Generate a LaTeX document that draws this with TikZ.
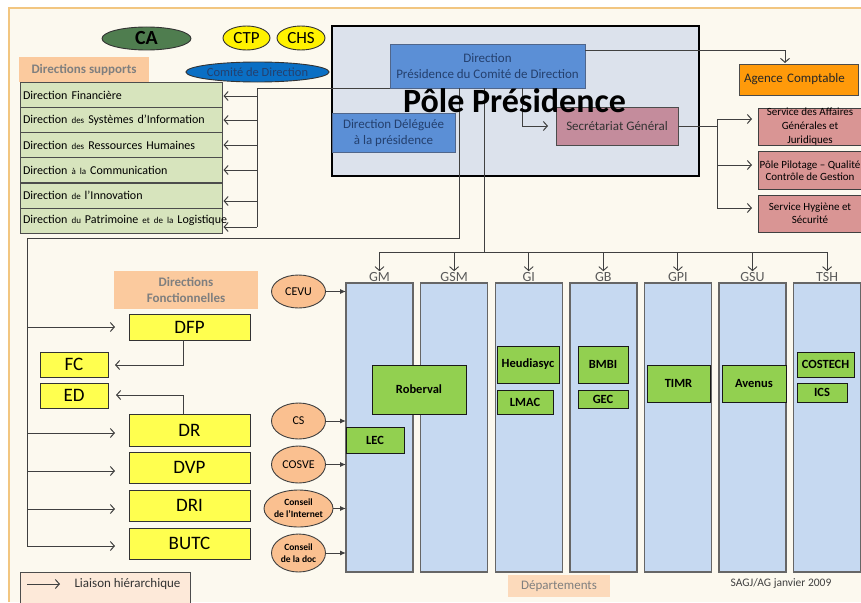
\documentclass[tikz,border=0pt]{standalone}
\usepackage{fontspec}
\setmainfont{Carlito}
\usetikzlibrary{arrows.meta,shapes.geometric}
\definecolor{cream}{HTML}{FCF9EF}
\definecolor{frameor}{HTML}{F2C680}
\definecolor{listgreen}{HTML}{D7E4BD}
\definecolor{peach}{HTML}{FBCA9E}
\definecolor{peachlt}{HTML}{FDE9D9}
\definecolor{yel}{HTML}{FFFF4F}
\definecolor{ellor}{HTML}{FAC090}
\definecolor{depblue}{HTML}{C6D9F1}
\definecolor{labgreen}{HTML}{92D050}
\definecolor{poleg}{HTML}{DCE2EC}
\definecolor{dirblue}{HTML}{5B8FD6}
\definecolor{dirtext}{HTML}{24406E}
\definecolor{sgrose}{HTML}{C48C9C}
\definecolor{svcrose}{HTML}{D99594}
\definecolor{agence}{HTML}{FF9A0A}
\definecolor{cagreen}{HTML}{4F7D4F}
\definecolor{comblue}{HTML}{0A6FC4}
\definecolor{linec}{HTML}{404040}
\definecolor{greytext}{HTML}{7F7F7F}
\newcommand\fsz[2]{\fontsize{#1}{#2}\selectfont}
\newcommand\smw[1]{{\fsz{9}{10}#1}}
\begin{document}
\begin{tikzpicture}[x=1pt,y=-1pt,
  wh/.style 2 args={minimum width=#1pt,minimum height=#2pt},
  base/.style={inner sep=0pt,outer sep=0pt,line width=0.9pt,align=center},
  rowbox/.style={base,draw=black!70,fill=listgreen,minimum width=202pt,minimum height=25pt,text width=196pt,align=left,font=\fsz{12}{14}},
  ybox/.style={base,draw=black!80,fill=yel,font=\fsz{19}{21}},
  dept/.style={base,draw=black!60,fill=depblue,line width=1.4pt,wh={67}{289}},
  lab/.style={base,draw=black!90,fill=labgreen,font=\fsz{12.5}{14}\bfseries},
  conseil/.style={base,ellipse,draw=black!75,fill=ellor,font=\fsz{12}{14},wh={54}{36}},
  dlabel/.style={inner sep=1pt,text=black!65,font=\fsz{14}{16}},
  svc/.style={base,draw=black!75,fill=svcrose,font=\fsz{11}{12.5},wh={104}{37}},
  conn/.style={draw=linec,line width=1pt},
  barb/.style={conn,-{Straight Barb[length=4pt,width=9pt,line width=1pt]}},
  tri/.style={conn,-{Latex[length=6pt,width=5pt]}},
]
\useasboundingbox (0,0) rectangle (861,602);
\clip (0,0) rectangle (861,602);
\fill[white] (0,0) rectangle (861,602);
\fill[cream] (9,8) rectangle (861,602);
\draw[frameor,line width=1.5pt] (9,602) -- (9,8) -- (861,8);

% top ellipses
\node[base,ellipse,draw=black!80,fill=cagreen,wh={89}{23},font=\fsz{20}{22}\bfseries] (ca) at (146.5,38.5) {CA};
\node[base,ellipse,draw=black!80,fill=yellow,wh={47}{24},font=\fsz{17}{19}] (ctp) at (246.5,38) {CTP};
\node[base,ellipse,draw=black!80,fill=yellow,wh={48}{24},font=\fsz{17}{19}] (chs) at (301,38) {CHS};
\node[base,ellipse,draw=black!80,fill=comblue,wh={137}{20},text=dirtext,font=\fsz{12.5}{14}] (comite) at (257.5,72) {Comité de Direction};

% directions supports
\node[base,fill=peach,wh={130}{25},text=greytext,font=\fsz{13}{15}\bfseries] (dsup) at (84,69.5) {Directions supports};
\node[rowbox] (r1) at (121,95.2) {\mbox{Direction Financière}};
\node[rowbox] (r2) at (121,120.2) {\mbox{Direction \smw{des} Systèmes d’Information}};
\node[rowbox] (r3) at (121,145.2) {\mbox{Direction \smw{des} Ressources Humaines}};
\node[rowbox] (r4) at (121,170.2) {\mbox{Direction \smw{à la} Communication}};
\node[rowbox] (r5) at (121,195.5) {\mbox{Direction \smw{de} l’Innovation}};
\node[rowbox] (r6) at (121,220.5) {\mbox{Direction \smw{du} Patrimoine \smw{et de la} Logistique}};

% pole presidence
\node[base,draw=black,line width=1.8pt,fill=poleg,wh={367}{150}] (pole) at (515.5,101) {};
\node[base,draw=dirtext!80,fill=dirblue,wh={195}{44},text=dirtext,font=\fsz{13}{16}] (dir) at (487.5,66) {Direction\\Présidence du Comité de Direction};
\node[base,draw=dirtext!80,fill=dirblue,wh={123}{39},text=dirtext,font=\fsz{13}{16}] (ddel) at (393.5,133) {Direction Déléguée\\à la présidence};
\node[base,draw=black!70,fill=sgrose,wh={122}{38},text=black!80,font=\fsz{13}{16}] (sg) at (617,126) {Secrétariat Général};
\node[base,draw=black!70,fill=agence,wh={119}{31},text=black!85,font=\fsz{13}{16},text width=109pt,align=left] (agence) at (798.5,79.5) {Agence Comptable};
\node[svc,font=\fsz{11}{14}] (svc1) at (810,127) {Service des Affaires\\Générales et\\Juridiques};
\node[svc,wh={104}{38}] (svc2) at (810,170.5) {Pôle Pilotage – Qualité\\Contrôle de Gestion};
\node[svc,font=\fsz{11}{13}] (svc3) at (810,213.5) {Service Hygiène et\\Sécurité};

% connectors from Direction
\draw[conn] (dir.south west) -- (257,88) -- (257,227);
\foreach \r/\y in {r1/96,r2/120,r3/145,r4/170,r5/201,r6/227}
  \draw[barb,shorten >=1.5pt] (257,\y) -- (\r.east |- 0,\y);
\draw[barb,shorten >=8pt] ([xshift=34.5pt]dir.south) -- (522,126) -- (sg.west);
\draw[barb,shorten >=1pt] ([yshift=15pt]dir.east) -- (785,51) -- (agence.north -| 785,0);
\draw[conn] (sg.east) -- (717,126);
\draw[conn] (717,119) -- (717,208);
\foreach \s/\y in {svc1/119,svc2/165,svc3/208}
  \draw[barb,shorten >=6pt] (717,\y) -- (\s.west |- 0,\y);

% directions fonctionnelles
\node[base,fill=peach,wh={144}{38},text=greytext,font=\fsz{13}{16}\bfseries] (dfon) at (186,290) {Directions\\Fonctionnelles};
\node[ybox,wh={121}{26}] (DFP) at (189.5,327) {DFP};
\node[ybox,wh={68}{25}] (FC) at (74,364.5) {FC};
\node[ybox,wh={68}{25}] (ED) at (74,395.5) {ED};
\node[ybox,wh={121}{32}] (DR) at (189.5,430) {DR};
\node[ybox,wh={121}{31}] (DVP) at (189.5,467.5) {DVP};
\node[ybox,wh={121}{31}] (DRI) at (189.5,505.5) {DRI};
\node[ybox,wh={121}{31}] (BUTC) at (189.5,543.5) {BUTC};
\draw[conn] ([xshift=-28.5pt]dir.south) -- (459,238) -- (27,238) -- (27,546);
\foreach \n/\y in {DFP/327,DR/433,DVP/471,DRI/509,BUTC/546}
  \draw[barb,shorten >=14pt] (27,\y) -- (\n.west |- 0,\y);
\draw[barb,shorten >=7pt] ([xshift=-6.5pt]DFP.south) -- (183,365) -- (FC.east |- 0,365);
\draw[barb,shorten >=8pt] ([xshift=-6.5pt]DR.north) -- (183,395) -- (ED.east |- 0,395);

% departments
\foreach \i/\t in {1/GM,2/GSM,3/GI,4/GB,5/GPI,6/GSU,7/TSH}{
  \pgfmathsetmacro\cx{379.5+74.6*(\i-1)}
  \node[dept] (d\i) at (\cx,427.5) {};
  \node[dlabel] (l\i) at (\cx,277) {\t};
}
\draw[conn] ([xshift=-3.5pt]dir.south) -- (484,252);
\draw[conn] (l1.north |- 0,252) -- (l7.north |- 0,252);
\foreach \i in {1,...,7}
  \draw[conn,line width=0.9pt,-{Straight Barb[length=4pt,width=9pt,line width=0.9pt]}] (l\i.north |- 0,252) -- (l\i.north);

% labs
\node[lab,wh={94}{49}] (roberval) at (419,389.5) {Roberval};
\node[lab,wh={58}{26}] (lec) at (375,440.5) {LEC};
\node[lab,wh={62}{37}] (heudiasyc) at (528,364.5) {Heudiasyc};
\node[lab,wh={56}{24}] (lmac) at (525,402) {LMAC};
\node[lab,wh={50}{37}] (bmbi) at (603,364.5) {BMBI};
\node[lab,wh={50}{18}] (gec) at (603,399) {GEC};
\node[lab,wh={63}{37}] (timr) at (678.5,383.5) {TIMR};
\node[lab,wh={64}{37}] (avenus) at (754,383.5) {Avenus};
\node[lab,wh={57}{25}] (costech) at (825.5,364.5) {COSTECH};
\node[lab,wh={50}{19}] (ics) at (822,392.5) {ICS};

% councils
\node[conseil,wh={54}{33}] (cevu) at (298.5,291.5) {CEVU};
\node[conseil] (cs) at (298.5,421) {CS};
\node[conseil,wh={54}{37}] (cosve) at (298.5,464.5) {COSVE};
\node[conseil,wh={54}{37},font=\fsz{9.5}{12}\bfseries] (cint) at (298.5,508.5) {Conseil\\de l’Internet};
\node[conseil,wh={54}{38},font=\fsz{9.5}{12}\bfseries] (cdoc) at (298.5,553) {Conseil\\de la doc};
\foreach \e in {cevu,cs,cosve,cint,cdoc}
  \draw[tri] (\e.east) -- (d1.west |- \e.east);

% legend & footer
\node[base,draw=black!70,fill=peachlt,wh={170}{40},anchor=north west] (leg) at (20,572) {};
\draw[barb] ([xshift=7pt,yshift=-12pt]leg.north west) -- ++(33,0);
\node[font=\fsz{13}{15},text=black!80] (legt) at (127.5,584) {Liaison hiérarchique};
\node[base,fill=peach!70,wh={102}{22},text=greytext,font=\fsz{13}{15}] (depts) at (559,586) {Départements};
\node[font=\fsz{11.5}{13},text=black!75] (sagj) at (781,583) {SAGJ/AG janvier 2009};

% title
\node[font=\fsz{34}{36}\bfseries,anchor=base,inner sep=0pt] (title) at (514.5,112) {Pôle Présidence};
\end{tikzpicture}
\end{document}
